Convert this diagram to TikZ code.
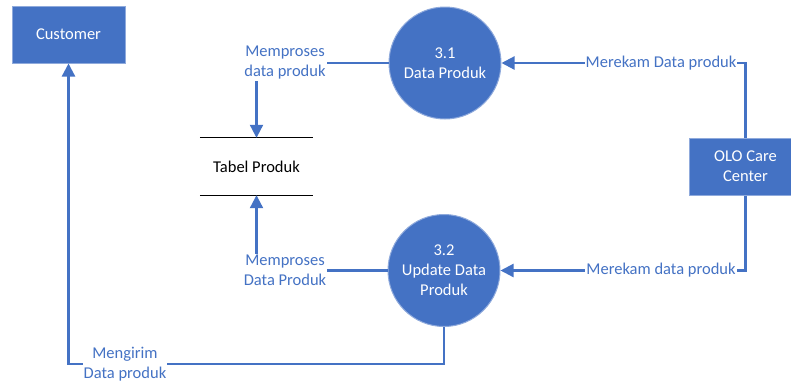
\documentclass[tikz,border=0pt]{standalone}
\usepackage{fontspec}
\setmainfont{Carlito}
\usetikzlibrary{arrows.meta}
\definecolor{ofblue}{HTML}{4472C4}
\definecolor{edgeblue}{HTML}{8FAADC}
\tikzset{
  ext/.style={rectangle, fill=ofblue, draw=edgeblue, line width=1pt, text=white, align=center, minimum width=113pt, minimum height=57pt, inner sep=0pt},
  proc/.style={circle, fill=ofblue, draw=edgeblue, line width=1pt, text=white, align=center, minimum size=112pt, inner sep=0pt},
  lbl/.style={fill=white, text=ofblue, align=center, inner sep=1pt},
  flow/.style={draw=ofblue, line width=2.2pt, -{Triangle[length=13pt,width=13pt]}},
  store/.style={minimum width=113pt, minimum height=57pt, inner sep=0pt, align=center}
}
\begin{document}
\begin{tikzpicture}[x=1pt,y=-1pt,font=\fontsize{16.5}{20}\selectfont]
\useasboundingbox (0,0) rectangle (791,383);
\clip (0,0) rectangle (791,383);
\node[ext] (cust) at (68.5,34.5) {Customer};
\node[proc] (p31) at (445,63) {3.1\\Data Produk};
\node[proc] (p32) at (444,270.5) {3.2\\Update Data\\Produk};
\node[ext] (olo) at (745.5,166.5) {OLO Care\\Center};
\node[store] (tab) at (256.5,166.5) {Tabel Produk};
\draw[line width=1.2pt] (tab.north west) -- (tab.north east);
\draw[line width=1.2pt] (tab.south west) -- (tab.south east);
\coordinate (c1) at (68.5,364);
\draw[flow] (olo.north) |- (p31.east);
\draw[flow] (olo.south) |- (p32.east);
\draw[flow] (p31.west) -| (tab.north);
\draw[flow] (p32.west) -| (tab.south);
\draw[flow] (p32.south) |- (c1) -- (cust.south);
\node[lbl] (l1) at (661,63) {Merekam Data produk};
\node[lbl] (l2) at (661,270.5) {Merekam data produk};
\node[lbl] (l3) at (285,63) {Memproses\\data produk};
\node[lbl] (l4) at (285,270.5) {Memproses\\Data Produk};
\node[lbl] (l5) at (125,364) {Mengirim\\Data produk};
\end{tikzpicture}
\end{document}
